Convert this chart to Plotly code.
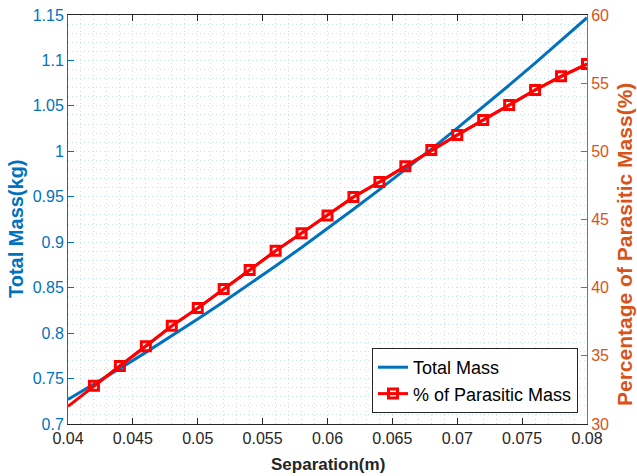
import plotly.graph_objects as go

# Data
sep = [0.040, 0.042, 0.044, 0.046, 0.048, 0.050, 0.052, 0.054, 0.056, 0.058, 0.060,
       0.062, 0.064, 0.066, 0.068, 0.070, 0.072, 0.074, 0.076, 0.078, 0.080]
total_mass = [0.727, 0.7438, 0.7611, 0.7788, 0.7969, 0.8155, 0.8345, 0.8540, 0.8739, 0.8942, 0.915,
              0.9362, 0.9579, 0.9800, 1.0025, 1.0255, 1.0489, 1.0728, 1.0971, 1.1218, 1.147]
parasitic_pct = [31.3, 32.8, 34.25, 35.7, 37.2, 38.5, 39.9, 41.3, 42.7, 44.0, 45.3,
                 46.65, 47.75, 48.9, 50.1, 51.2, 52.3, 53.4, 54.5, 55.5, 56.4]
marker_sep = sep[1:]
marker_pct = parasitic_pct[1:]

x_ticks = [0.04, 0.045, 0.05, 0.055, 0.06, 0.065, 0.07, 0.075, 0.08]
x_ticktext = ["0.04", "0.045", "0.05", "0.055", "0.06", "0.065", "0.07", "0.075", "0.08"]
y1_ticks = [0.7, 0.75, 0.8, 0.85, 0.9, 0.95, 1.0, 1.05, 1.1, 1.15]
y1_ticktext = ["0.7", "0.75", "0.8", "0.85", "0.9", "0.95", "1", "1.05", "1.1", "1.15"]
y2_ticks = [30, 35, 40, 45, 50, 55, 60]

x_title = "Separation(m)"
y1_title = "Total Mass(kg)"
y2_title = "Percentage of Parasitic Mass(%)"

BLUE = "#0072BD"
ORANGE = "#D95319"
DARK = "#262626"
FONT = "Liberation Sans, Arial, sans-serif"

W, H = 637, 476
L, T = 68, 15
R = W - 587
B = H - 424
PW, PH = W - L - R, H - T - B


def px_x(wx):
    return (wx - L) / PW


def px_y(wy):
    return ((H - B) - wy) / PH


fig = go.Figure()
fig.add_trace(go.Scatter(x=sep, y=total_mass, mode="lines", name="Total Mass",
                         line=dict(color=BLUE, width=3), yaxis="y"))
fig.add_trace(go.Scatter(x=sep, y=parasitic_pct, mode="lines", showlegend=False,
                         line=dict(color="#FF0000", width=3), yaxis="y2"))
fig.add_trace(go.Scatter(x=marker_sep, y=marker_pct, mode="lines+markers", name="% of Parasitic Mass",
                         line=dict(color="#FF0000", width=3),
                         marker=dict(symbol="square-open", size=9, color="#FF0000",
                                     line=dict(color="#FF0000", width=3)),
                         yaxis="y2"))

grid_x = "#dadada"
grid_y = "#cae0f1"

fig.update_layout(
    width=W, height=H,
    margin=dict(l=L, r=R, t=T, b=B),
    paper_bgcolor="white", plot_bgcolor="white",
    font=dict(family=FONT, size=16, color=DARK),
    xaxis=dict(range=[0.04, 0.08], tickvals=x_ticks, ticktext=x_ticktext, automargin=False,
               ticks="inside", ticklen=6, tickcolor=DARK, showline=True, linecolor=DARK,
               linewidth=1, mirror="ticks", zeroline=False, ticklabeloverflow="allow",
               tickfont=dict(size=16, color=DARK),
               showgrid=True, gridcolor=grid_x, griddash="1px,3px", gridwidth=1,
               minor=dict(dtick=0.001, showgrid=True, gridcolor=grid_x, griddash="1px,3px",
                          gridwidth=1, ticks="")),
    yaxis=dict(range=[0.7, 1.15], tickvals=y1_ticks, ticktext=y1_ticktext, automargin=False,
               ticks="inside", ticklen=6, tickcolor=BLUE, showline=True, linecolor=BLUE,
               linewidth=1, zeroline=False, ticklabeloverflow="allow",
               tickfont=dict(size=16, color=BLUE),
               showgrid=True, gridcolor=grid_y, griddash="1px,3px", gridwidth=1,
               minor=dict(dtick=0.01, showgrid=True, gridcolor=grid_y, griddash="1px,3px",
                          gridwidth=1, ticks="")),
    yaxis2=dict(range=[30, 60], tickvals=y2_ticks, overlaying="y", side="right", automargin=False,
                ticks="inside", ticklen=6, tickcolor=ORANGE, showline=True, linecolor=ORANGE,
                linewidth=1, zeroline=False, showgrid=False, ticklabeloverflow="allow",
                tickfont=dict(size=16, color=ORANGE)),
    legend=dict(x=px_x(578), y=px_y(413), xanchor="right", yanchor="bottom",
                bgcolor="white", bordercolor=DARK, borderwidth=1,
                font=dict(size=18, color="black"), tracegroupgap=2),
    showlegend=True,
)

# Axis titles as annotations (placed by window pixel position)
fig.add_annotation(text="<b>" + x_title + "</b>", xref="paper", yref="paper",
                   x=px_x(327.5), y=px_y(464), xanchor="center", yanchor="middle",
                   showarrow=False, font=dict(size=17, color=DARK, family=FONT))
fig.add_annotation(text="<b>" + y1_title + "</b>", xref="paper", yref="paper",
                   x=px_x(16), y=px_y(229),
                   xanchor="center", yanchor="middle", textangle=-90,
                   showarrow=False, font=dict(size=20, color=BLUE, family=FONT))
fig.add_annotation(text="<b>" + y2_title + "</b>", xref="paper", yref="paper",
                   x=px_x(624), y=px_y(245),
                   xanchor="center", yanchor="middle", textangle=-90,
                   showarrow=False, font=dict(size=21, color=ORANGE, family=FONT))

# remove the default 8px page margin so the figure fills the window exactly
fig.write_html("out.html", config={"displayModeBar": False},
               post_script="document.body.style.margin='0';")
